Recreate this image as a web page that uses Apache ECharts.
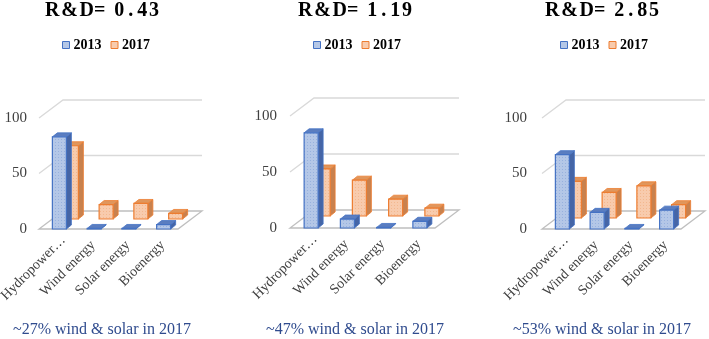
<!DOCTYPE html>
<html><head><meta charset="utf-8">
<script src="https://cdn.jsdelivr.net/npm/echarts@6/dist/echarts.min.js"></script>
<style>html,body{margin:0;padding:0;background:#fff}#c{width:709px;height:339px}</style>
</head><body><div id="c"></div>
<script>
// ---- data ----
const categories = ['Hydropower\u2026', 'Wind energy', 'Solar energy', 'Bioenergy'];
const years = ['2013', '2017'];
const panelTitles = ['R\u200A&\u200AD=\u2009 0\u2009.\u20094\u200A3', 'R\u200A&\u200AD=\u2009 1\u2009.\u20091\u200A9', 'R\u200A&\u200AD=\u2009 2\u2009.\u20098\u200A5'];
const panelNotes = ['~27% wind & solar in 2017', '~47% wind & solar in 2017', '~53% wind & solar in 2017'];
const values2013 = [[83, 0.5, 0.5, 4], [85, 8, 0.5, 6], [67, 15, 0.5, 17]];
const values2017 = [[66, 13, 14, 5], [42, 32, 15, 7], [33, 23, 29, 12]];
const yTicks = [0, 50, 100];

// ---- layout / style ----
const SERIF = '"Liberation Serif", "Times New Roman", serif';
const panels = [
  { left: 41, top: 118, width: 139, height: 111, cx: 102, legendLeft: 62, raise: 10, yMargin: 14 },
  { left: 292, top: 116, width: 145, height: 112, cx: 355, legendLeft: 313, raise: 12, yMargin: 15 },
  { left: 544, top: 118, width: 139, height: 111, cx: 602, legendLeft: 560, raise: 11, yMargin: 17 }
];
const SHIFT = 2, DX = 24, DY = -18, BW = 14, BDX = 5, BDY = -4;
function pattern(base, dot) {
  const c = document.createElement('canvas'); c.width = 3; c.height = 3;
  const g = c.getContext('2d'); g.fillStyle = base; g.fillRect(0, 0, 3, 3);
  g.fillStyle = dot; g.fillRect(1, 1, 1, 1); return c;
}
const styles = {
  '2013': { front: '#B4C7E7', dot: '#97B1DE', edge: '#4472C4', top: '#5A7DC0', side: '#4565A6', off: -6 },
  '2017': { front: '#F8CBAD', dot: '#F3B88F', edge: '#ED7D31', top: '#E0965C', side: '#C8814E', off: 6 }
};

const option = {
  animation: false,
  grid: panels.map(p => ({ left: p.left, top: p.top, width: p.width, height: p.height, containLabel: false, outerBoundsMode: 'none' })),
  xAxis: panels.map((p, k) => ({
    type: 'category', gridIndex: k,
    data: categories.map((c, i) => i === 0 ? { value: c, textStyle: { padding: [0, -7, 0, 0] } } : c),
    axisLine: { show: false }, axisTick: { show: false }, splitLine: { show: false },
    axisLabel: { rotate: 45, margin: 14, interval: 0, fontFamily: SERIF, fontSize: 14, color: '#404040' }
  })),
  yAxis: panels.map((p, k) => ({
    type: 'value', gridIndex: k, min: 0, max: 100, interval: 50,
    axisLine: { show: false }, axisTick: { show: false }, splitLine: { show: false },
    axisLabel: { margin: p.yMargin, fontFamily: SERIF, fontSize: 15, color: '#404040' }
  })),
  legend: panels.map(p => ({
    left: p.legendLeft, top: 38, icon: 'rect', itemWidth: 7, itemHeight: 7, itemGap: 9,
    selectedMode: false, padding: 0,
    textStyle: { fontFamily: SERIF, fontWeight: 'bold', fontSize: 14, color: '#000', padding: [0, 0, 0, -1] },
    data: years.map(y => ({ name: y, itemStyle: { color: styles[y].front, borderColor: styles[y].edge, borderWidth: 1 } }))
  })),
  graphic: [].concat(
    panels.map((p, k) => ({ type: 'text', x: p.cx, y: 11, style: { text: panelTitles[k], align: 'center', verticalAlign: 'middle', fontFamily: SERIF, fontWeight: 'bold', fontSize: 20, fill: '#000' } })),
    panels.map((p, k) => ({ type: 'text', x: p.cx, y: 330, style: { text: panelNotes[k], align: 'center', verticalAlign: 'middle', fontFamily: SERIF, fontSize: 16, fill: '#2F4B8E' } }))
  ),
  series: []
};

panels.forEach((p, k) => {
  // walls and floor
  option.series.push({
    type: 'custom', xAxisIndex: k, yAxisIndex: k, z: 1, silent: true,
    data: [[0, 0]],
    renderItem: function (params, api) {
      const cs = params.coordSys;
      const fx0 = cs.x - SHIFT, fx1 = cs.x + cs.width - SHIFT;
      const children = [];
      const y0 = api.coord([0, 0])[1];
      children.push({ type: 'polygon', shape: { points: [[fx0, y0], [fx1, y0], [fx1 + DX, y0 + DY], [fx0 + DX, y0 + DY]] },
        style: { fill: '#FFFFFF', stroke: '#BFBFBF', lineWidth: 1.3 } });
      yTicks.forEach(t => {
        if (t === 0) return;
        const y = api.coord([0, t])[1];
        children.push({ type: 'polyline', shape: { points: [[fx0, y], [fx0 + DX, y + DY], [fx1 + DX, y + DY]] },
          style: { fill: null, stroke: '#D9D9D9', lineWidth: 1.3 } });
      });
      return { type: 'group', children };
    }
  });
  // bars (2017 behind, then 2013 in front)
  [['2017', values2017[k]], ['2013', values2013[k]]].forEach(([yr, vals], idx) => {
    const s = styles[yr];
    const fillPat = { image: pattern(s.front, s.dot), repeat: 'repeat' };
    const raise = yr === '2017' ? p.raise : 0;
    option.series.push({
      type: 'custom', name: yr, xAxisIndex: k, yAxisIndex: k, z: 2 + idx,
      itemStyle: { color: s.front, borderColor: s.edge },
      encode: { x: 0, y: 1 },
      data: vals.map((v, i) => [i, v]),
      renderItem: function (params, api) {
        const i = api.value(0), v = api.value(1);
        const b = api.coord([i, 0]), t = api.coord([i, v]);
        const x = b[0] + s.off, yb = b[1] - raise, yt = t[1] - raise;
        return { type: 'group', children: [
          { type: 'polygon', shape: { points: [[x + BW, yt], [x + BW + BDX, yt + BDY], [x + BW + BDX, yb + BDY], [x + BW, yb]] },
            style: { fill: s.side, stroke: s.edge, lineWidth: 0.8 } },
          { type: 'polygon', shape: { points: [[x, yt], [x + BW, yt], [x + BW + BDX, yt + BDY], [x + BDX, yt + BDY]] },
            style: { fill: s.top, stroke: s.edge, lineWidth: 0.8 } },
          { type: 'rect', shape: { x: x, y: yt, width: BW, height: Math.max(yb - yt, 0.5) },
            style: { fill: fillPat, stroke: s.edge, lineWidth: 1.2 } }
        ] };
      }
    });
  });
});

const chart = echarts.init(document.getElementById('c'), null, { renderer: 'canvas' });
chart.setOption(option);
</script>
</body></html>
